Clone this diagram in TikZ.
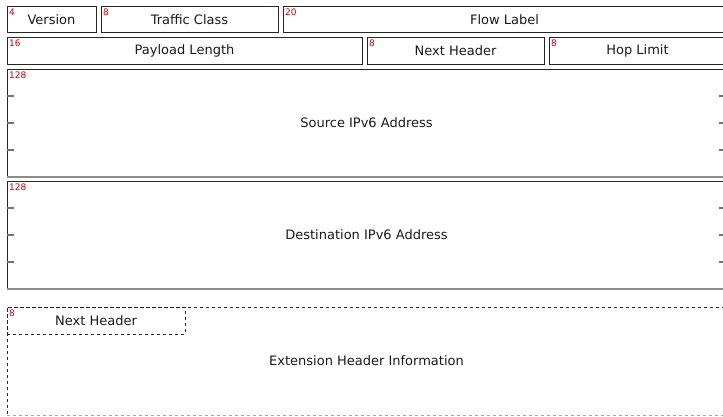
\documentclass[tikz,border=0pt]{standalone}
\usepackage{fontspec}
\setmainfont{DejaVu Sans}
\usetikzlibrary{positioning,calc}

\begin{document}
\begin{tikzpicture}[x=1pt,y=1pt,node distance=5pt]

% Define header field styles
\tikzstyle{field} = [rectangle, draw=black!85, line width=1pt, inner sep=0pt, outer sep=0pt, text=black!90, font=\fontsize{13}{15}\selectfont, minimum height=26.5pt]
\tikzstyle{bits} = [inner sep=0pt, text=red!85!black, font=\fontsize{9}{10}\selectfont, anchor=north west]
\tikzstyle{tick} = [draw=black!55, line width=1.5pt]
\tikzstyle{optional} = [rectangle, draw=black!85, line width=1pt, dash pattern=on 3pt off 3pt, inner sep=0pt, outer sep=0pt, text=black!90, font=\fontsize{13}{15}\selectfont]

\useasboundingbox (0,0) rectangle (723,-416);
\clip (0,0) rectangle (723,-416);

% First row
\node[field, anchor=north west, minimum width=89pt] (version) at (7,-6) {Version};
\node[field, right=of version, minimum width=177pt] (trafficClass) {Traffic Class};
\node[field, right=of trafficClass, minimum width=443pt] (flowLabel) {Flow Label};

% Second row
\node[field, anchor=north west, minimum width=355pt] (payloadLength) at ([yshift=-5pt]version.south west) {Payload Length};
\node[field, right=of payloadLength, minimum width=177pt] (nextHeader) {Next Header};
\node[field, right=of nextHeader, minimum width=177pt] (hopLimit) {Hop Limit};

% Addresses
\node[field, anchor=north west, minimum width=719pt, minimum height=108pt] (srcAddress) at ([yshift=-5pt]payloadLength.south west) {Source IPv6 Address};
\node[field, anchor=north west, minimum width=719pt, minimum height=108pt] (dstAddress) at ([yshift=-4pt]srcAddress.south west) {Destination IPv6 Address};

% Extension header (optional)
\node[optional, anchor=north west, minimum width=719pt, minimum height=108pt] (extInfo) at ([yshift=-18pt]dstAddress.south west) {Extension Header Information};
\node[optional, anchor=north west, minimum width=178pt, minimum height=27pt] (extNextHeader) at (extInfo.north west) {Next Header};
\draw[optional, draw=white, dash pattern=] ([xshift=1pt]extInfo.south west) -- ([xshift=-1pt]extInfo.south east);
\draw[optional, draw=black!35] (extInfo.south west) -- (extInfo.south east);

% Field sizes in bits
\foreach \n/\b in {version/4, trafficClass/8, flowLabel/20, payloadLength/16, nextHeader/8, hopLimit/8, srcAddress/128, dstAddress/128, extNextHeader/8}
  \node[bits] (bits-\n) at ([shift={(2pt,-2.5pt)}]\n.north west) {\b};

% 32-bit word marks
\foreach \n in {srcAddress, dstAddress} {
  \draw[draw=black!45, line width=1.5pt] (\n.south west) -- (\n.south east);
  \foreach \f in {1,2,3} {
    \draw[tick] ($(\n.north west)!\f/4!(\n.south west)$) -- ++(7,0);
    \draw[tick] ($(\n.north east)!\f/4!(\n.south east)$) -- ++(-7,0);
  }
}

\end{tikzpicture}
\end{document}
